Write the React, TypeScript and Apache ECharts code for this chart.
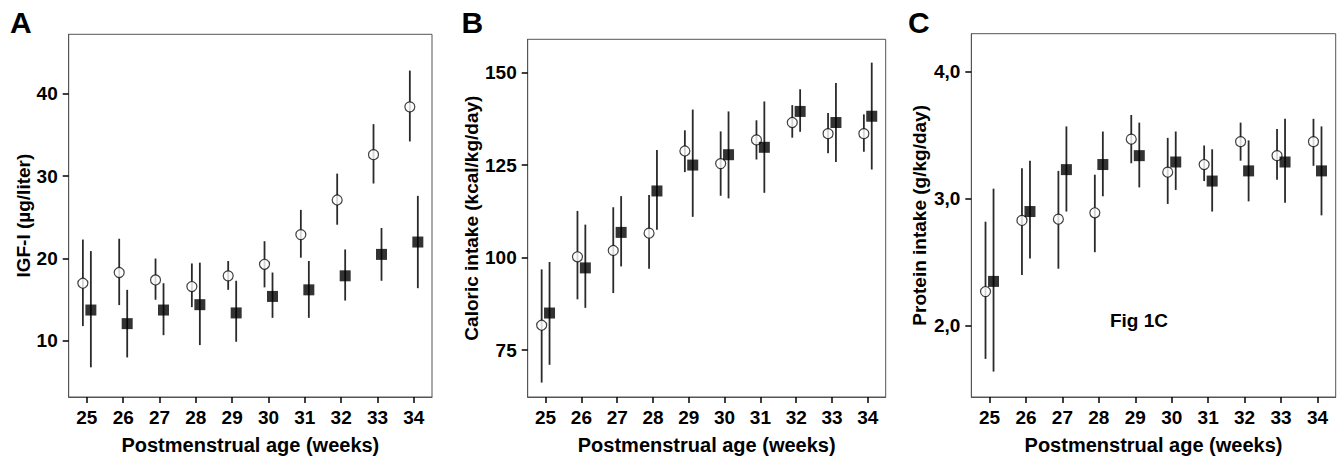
import React, { useEffect, useRef } from "react";
import * as echarts from "echarts";

const weeks = [25, 26, 27, 28, 29, 30, 31, 32, 33, 34];
const xTickLabels = ["25", "26", "27", "28", "29", "30", "31", "32", "33", "34"];

// Panel A: IGF-I (µg/liter)
const igfOpenMean = [17.0, 18.3, 17.4, 16.6, 17.9, 19.3, 22.9, 27.1, 32.6, 38.4];
const igfOpenLow = [11.8, 14.35, 15.0, 14.1, 16.2, 16.5, 20.1, 24.1, 29.1, 34.2];
const igfOpenHigh = [22.3, 22.4, 20.0, 19.4, 19.7, 22.1, 25.9, 30.3, 36.3, 42.8];
const igfFilledMean = [13.75, 12.1, 13.75, 14.4, 13.4, 15.4, 16.2, 17.9, 20.5, 22.0];
const igfFilledLow = [6.8, 8.0, 10.7, 9.5, 9.9, 12.8, 12.8, 14.9, 17.3, 16.4];
const igfFilledHigh = [20.9, 16.2, 17.0, 19.5, 17.3, 18.3, 19.7, 21.1, 23.7, 27.6];
const igfTicks = [10, 20, 30, 40];

// Panel B: Caloric intake (kcal/kg/day)
const calOpenMean = [81.7, 100.2, 101.9, 106.6, 128.8, 125.4, 131.8, 136.5, 133.5, 133.5];
const calOpenLow = [66.2, 88.7, 90.4, 97.0, 123.1, 116.7, 126.5, 132.4, 128.2, 128.6];
const calOpenHigh = [96.8, 112.6, 113.6, 116.9, 134.4, 134.1, 137.1, 141.2, 139.1, 138.7];
const calFilledMean = [85.0, 97.2, 106.8, 118.0, 125.0, 127.8, 129.8, 139.5, 136.5, 138.2];
const calFilledLow = [71.0, 86.4, 97.6, 107.5, 111.0, 116.0, 117.5, 134.0, 125.8, 123.8];
const calFilledHigh = [98.8, 108.9, 116.6, 129.1, 140.0, 139.5, 142.2, 145.5, 147.2, 152.7];
const calTicks = [75, 100, 125, 150];

// Panel C: Protein intake (g/kg/day)
const protOpenMean = [2.27, 2.83, 2.84, 2.89, 3.47, 3.21, 3.27, 3.45, 3.34, 3.45];
const protOpenLow = [1.74, 2.4, 2.45, 2.58, 3.28, 2.96, 3.14, 3.3, 3.15, 3.26];
const protOpenHigh = [2.82, 3.24, 3.22, 3.19, 3.66, 3.48, 3.42, 3.6, 3.55, 3.63];
const protFilledMean = [2.35, 2.9, 3.23, 3.27, 3.34, 3.29, 3.14, 3.22, 3.29, 3.22];
const protFilledLow = [1.64, 2.53, 2.9, 3.02, 3.09, 3.07, 2.9, 2.98, 2.97, 2.87];
const protFilledHigh = [3.08, 3.3, 3.57, 3.53, 3.6, 3.53, 3.39, 3.46, 3.63, 3.57];
const protTicks = [2, 3, 4];

const FONT = "'Liberation Sans', Arial, Helvetica, sans-serif";
const OPEN_SHIFT = -0.11;
const FILLED_SHIFT = 0.11;

const panels = [
  {
    letter: "A",
    yName: "IGF-I (µg/liter)",
    yMin: 3.2,
    yMax: 47.2,
    yTicks: igfTicks,
    fmt: (v: number) => String(v),
    grid: { left: 68.7, top: 34.3, width: 363.3, height: 364.7 },
    nameGap: 36,
    letterX: 10,
    openMean: igfOpenMean,
    openLow: igfOpenLow,
    openHigh: igfOpenHigh,
    filledMean: igfFilledMean,
    filledLow: igfFilledLow,
    filledHigh: igfFilledHigh,
  },
  {
    letter: "B",
    yName: "Caloric intake (kcal/kg/day)",
    yMin: 62.3,
    yMax: 159,
    yTicks: calTicks,
    fmt: (v: number) => String(v),
    grid: { left: 527.7, top: 39.3, width: 358, height: 359.7 },
    nameGap: 45,
    letterX: 461.5,
    openMean: calOpenMean,
    openLow: calOpenLow,
    openHigh: calOpenHigh,
    filledMean: calFilledMean,
    filledLow: calFilledLow,
    filledHigh: calFilledHigh,
  },
  {
    letter: "C",
    yName: "Protein intake (g/kg/day)",
    yMin: 1.44,
    yMax: 4.3,
    yTicks: protTicks,
    fmt: (v: number) => v.toFixed(1).replace(".", ","),
    grid: { left: 971.3, top: 33.7, width: 364.4, height: 365.3 },
    nameGap: 42,
    letterX: 908,
    openMean: protOpenMean,
    openLow: protOpenLow,
    openHigh: protOpenHigh,
    filledMean: protFilledMean,
    filledLow: protFilledLow,
    filledHigh: protFilledHigh,
  },
];

function errorRender(params: any, api: any) {
  const x = api.value(0);
  const lo = api.value(1);
  const hi = api.value(2);
  const p1 = api.coord([x, lo]);
  const p2 = api.coord([x, hi]);
  return {
    type: "line",
    shape: { x1: p1[0], y1: p1[1], x2: p2[0], y2: p2[1] },
    style: { stroke: "#2a2a2a", lineWidth: 1.8 },
  };
}

export default function App() {
  const ref = useRef<HTMLDivElement>(null);

  useEffect(() => {
    document.body.style.margin = "0";
    if (!ref.current) return;
    const chart = echarts.init(ref.current, undefined, { renderer: "svg" });

    const grids: any[] = [];
    const xAxes: any[] = [];
    const yAxes: any[] = [];
    const series: any[] = [];
    const graphics: any[] = [];

    panels.forEach((p, i) => {
      grids.push({
        ...p.grid,
        show: true,
        borderColor: "#555",
        borderWidth: 1,
        backgroundColor: "transparent",
        containLabel: false,
      });
      xAxes.push({
        type: "value",
        gridIndex: i,
        min: 24.5,
        max: 34.5,
        name: "Postmenstrual age (weeks)",
        nameLocation: "middle",
        nameGap: 38,
        nameTextStyle: { fontFamily: FONT, fontWeight: "bold", fontSize: 20, color: "#000" },
        axisLine: { show: true, onZero: false, lineStyle: { color: "#555", width: 1 } },
        axisTick: { show: true, length: 6, customValues: weeks, lineStyle: { color: "#000", width: 1.5 } },
        axisLabel: {
          show: true,
          customValues: weeks,
          margin: 11,
          fontFamily: FONT,
          fontWeight: "bold",
          fontSize: 19,
          color: "#000",
          formatter: (v: number) => xTickLabels[weeks.indexOf(Math.round(v))] ?? String(v),
        },
        splitLine: { show: false },
      });
      yAxes.push({
        type: "value",
        gridIndex: i,
        min: p.yMin,
        max: p.yMax,
        name: p.yName,
        nameLocation: "middle",
        nameGap: p.nameGap,
        nameTextStyle: { fontFamily: FONT, fontWeight: "bold", fontSize: 19, color: "#000" },
        axisLine: { show: true, onZero: false, lineStyle: { color: "#555", width: 1 } },
        axisTick: { show: true, length: 6, customValues: p.yTicks, lineStyle: { color: "#000", width: 1.5 } },
        axisLabel: {
          show: true,
          customValues: p.yTicks,
          margin: 11,
          fontFamily: FONT,
          fontWeight: "bold",
          fontSize: 19,
          color: "#000",
          formatter: (v: number) => p.fmt(v),
        },
        splitLine: { show: false },
      });

      const openErr = weeks.map((w, k) => [w + OPEN_SHIFT, p.openLow[k], p.openHigh[k]]);
      const filledErr = weeks.map((w, k) => [w + FILLED_SHIFT, p.filledLow[k], p.filledHigh[k]]);
      const openPts = weeks.map((w, k) => [w + OPEN_SHIFT, p.openMean[k]]);
      const filledPts = weeks.map((w, k) => [w + FILLED_SHIFT, p.filledMean[k]]);

      series.push({
        type: "custom",
        name: "Open 95% CI " + p.letter,
        xAxisIndex: i,
        yAxisIndex: i,
        renderItem: errorRender,
        encode: { x: 0, y: [1, 2] },
        data: openErr,
        z: 2,
      });
      series.push({
        type: "custom",
        name: "Filled 95% CI " + p.letter,
        xAxisIndex: i,
        yAxisIndex: i,
        renderItem: errorRender,
        encode: { x: 0, y: [1, 2] },
        data: filledErr,
        z: 2,
      });
      series.push({
        type: "scatter",
        name: "Open " + p.letter,
        xAxisIndex: i,
        yAxisIndex: i,
        symbol: "circle",
        symbolSize: 10,
        itemStyle: { color: "#fff", borderColor: "#111", borderWidth: 1.2 },
        data: openPts,
        z: 3,
      });
      series.push({
        type: "scatter",
        name: "Filled " + p.letter,
        xAxisIndex: i,
        yAxisIndex: i,
        symbol: "rect",
        symbolSize: 11,
        itemStyle: { color: "#000" },
        data: filledPts,
        z: 3,
      });

      graphics.push({
        type: "text",
        left: p.letterX,
        top: 7,
        style: { text: p.letter, fontFamily: FONT, fontWeight: "bold", fontSize: 30, fill: "#000" },
      });
    });

    graphics.push({
      type: "text",
      x: 1139,
      y: 320,
      style: {
        text: "Fig 1C",
        fontFamily: FONT,
        fontWeight: "bold",
        fontSize: 19,
        fill: "#000",
        textAlign: "center",
        textVerticalAlign: "middle",
      },
    });

    chart.setOption({
      animation: false,
      backgroundColor: "#fff",
      grid: grids,
      xAxis: xAxes,
      yAxis: yAxes,
      series,
      graphic: graphics,
    });

    return () => chart.dispose();
  }, []);

  return <div ref={ref} style={{ width: 1337, height: 460 }} />;
}
